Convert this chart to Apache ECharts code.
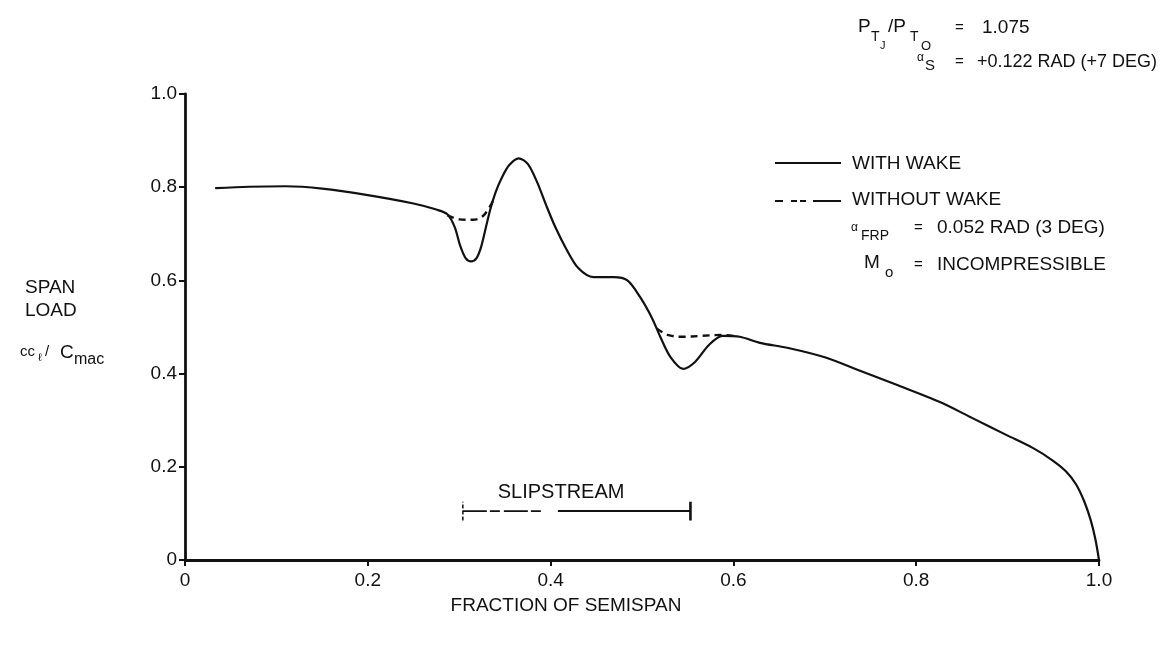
<!DOCTYPE html>
<html>
<head>
<meta charset="utf-8">
<script src="https://cdn.jsdelivr.net/npm/echarts@6/dist/echarts.min.js"></script>
<style>
  html, body { margin: 0; padding: 0; background: #fff; }
  #chart { width: 1169px; height: 649px; }
</style>
</head>
<body>
<div id="chart"></div>
<script>
// Fraction of semispan (x) and span load cc_l/C_mac (y)
const withWakeX = [0.033, 0.07, 0.11, 0.15, 0.20, 0.25, 0.275, 0.287, 0.295, 0.301, 0.307, 0.313, 0.319, 0.324, 0.329, 0.334, 0.340, 0.347, 0.355, 0.365, 0.375, 0.385, 0.395, 0.405, 0.417, 0.43, 0.447, 0.469, 0.484, 0.498, 0.511, 0.52, 0.531, 0.545, 0.558, 0.573, 0.588, 0.607, 0.629, 0.66, 0.70, 0.74, 0.78, 0.826, 0.861, 0.899, 0.928, 0.949, 0.964, 0.975, 0.984, 0.991, 0.996, 1.0];
const withWakeY = [0.798, 0.801, 0.802, 0.797, 0.783, 0.765, 0.752, 0.742, 0.715, 0.675, 0.648, 0.641, 0.648, 0.672, 0.712, 0.752, 0.790, 0.822, 0.848, 0.862, 0.850, 0.812, 0.762, 0.715, 0.668, 0.627, 0.607, 0.607, 0.600, 0.564, 0.519, 0.479, 0.436, 0.41, 0.425, 0.461, 0.481, 0.479, 0.466, 0.455, 0.435, 0.405, 0.375, 0.339, 0.305, 0.268, 0.240, 0.214, 0.190, 0.162, 0.125, 0.085, 0.045, 0.0];

// Without wake: two short segments that depart from the solid curve
const noWakeX = [0.287, 0.30, 0.315, 0.327, 0.338, null, 0.516, 0.528, 0.545, 0.565, 0.588, 0.60];
const noWakeY = [0.740, 0.731, 0.730, 0.740, 0.775, null, 0.497, 0.483, 0.479, 0.481, 0.483, 0.481];

// Slipstream extent along the semispan, and the height of its bracket
const slipstreamX = [0.304, 0.553];
const slipstreamLevel = 0.105;

const xTicks = ['0', '0.2', '0.4', '0.6', '0.8', '1.0'];
const yTicks = ['0', '0.2', '0.4', '0.6', '0.8', '1.0'];

const FONT = '"Liberation Sans", Arial, sans-serif';
const INK = '#111';

function pairs(xs, ys) {
  return xs.map((x, i) => (x === null ? [null, null] : [x, ys[i]]));
}

const chart = echarts.init(document.getElementById('chart'), null, { renderer: 'canvas' });

const axisCommon = {
  type: 'value',
  min: 0,
  max: 1,
  interval: 0.2,
  splitLine: { show: false },
  axisLine: { show: true, lineStyle: { color: INK, width: 2.8 } },
  axisTick: { show: true, length: 6, lineStyle: { color: INK, width: 2 } },
  axisLabel: { color: INK, fontFamily: FONT, fontSize: 19 }
};

const slipMid = (slipstreamX[0] + slipstreamX[1]) / 2;

chart.setOption({
  animation: false,
  backgroundColor: '#fff',
  grid: { left: 185, right: 70, top: 94, bottom: 89 },
  xAxis: Object.assign({}, axisCommon, {
    axisLabel: Object.assign({}, axisCommon.axisLabel, {
      margin: 11,
      formatter: (v) => xTicks[Math.round(v / 0.2)]
    })
  }),
  yAxis: Object.assign({}, axisCommon, {
    axisLabel: Object.assign({}, axisCommon.axisLabel, {
      margin: 8,
      formatter: (v) => yTicks[Math.round(v / 0.2)]
    })
  }),
  series: [
    {
      name: 'WITH WAKE',
      type: 'line',
      data: pairs(withWakeX, withWakeY),
      smooth: 0.3,
      showSymbol: false,
      lineStyle: { color: INK, width: 2.2 },
      z: 3
    },
    {
      name: 'WITHOUT WAKE',
      type: 'line',
      data: pairs(noWakeX, noWakeY),
      smooth: 0.35,
      connectNulls: false,
      showSymbol: false,
      lineStyle: { color: INK, width: 2.4, type: [7, 5] },
      z: 2
    },
    {
      // slipstream bracket: left half broken, right half solid
      type: 'line',
      data: [[slipstreamX[0], slipstreamLevel], [0.392, slipstreamLevel]],
      showSymbol: false,
      lineStyle: { color: INK, width: 1.8, type: [24, 3, 10, 4] }
    },
    {
      type: 'line',
      data: [[0.408, slipstreamLevel], [slipstreamX[1], slipstreamLevel]],
      showSymbol: false,
      lineStyle: { color: INK, width: 2 }
    },
    {
      type: 'line',
      data: [[slipstreamX[0], slipstreamLevel - 0.02], [slipstreamX[0], slipstreamLevel + 0.02]],
      showSymbol: false,
      lineStyle: { color: INK, width: 1.5, type: [4, 2] }
    },
    {
      type: 'line',
      data: [[slipstreamX[1], slipstreamLevel - 0.02], [slipstreamX[1], slipstreamLevel + 0.02]],
      showSymbol: false,
      lineStyle: { color: INK, width: 2.6 },
      markPoint: {
        symbol: 'rect',
        symbolSize: 0,
        data: [{ coord: [slipMid - 0.017, slipstreamLevel + 0.04], value: 'SLIPSTREAM' }],
        label: { show: true, formatter: 'SLIPSTREAM', color: INK, fontFamily: FONT, fontSize: 20 }
      }
    }
  ]
});

// Text annotations, legend keys and the axis titles
const T = (x, y, text, size, align) => ({
  type: 'text', x: x, y: y,
  style: { text: text, fill: INK, font: (size || 19) + 'px ' + FONT, textAlign: align || 'left', textVerticalAlign: 'middle' }
});

chart.setOption({
  graphic: [
    // P_TJ / P_TO = 1.075
    T(858, 27, 'P'), T(871, 37, 'T', 14), T(880, 46, 'J', 11),
    T(888, 27, '/P'), T(910, 37, 'T', 14), T(921, 46, 'O', 13),
    T(955, 28, '=', 15), T(982, 28, '1.075'),
    // alpha_S
    T(917, 58, 'α', 12), T(925, 66, 'S', 15),
    T(955, 62, '=', 15), T(977, 62, '+0.122 RAD (+7 DEG)', 18),
    // legend
    { type: 'line', shape: { x1: 775, y1: 163, x2: 841, y2: 163 }, style: { stroke: INK, lineWidth: 2.2 } },
    T(852, 164, 'WITH WAKE'),
    { type: 'line', shape: { x1: 775, y1: 201, x2: 841, y2: 201 }, style: { stroke: INK, lineWidth: 2.2, lineDash: [8, 8, 6, 3, 6, 7, 28, 0] } },
    T(852, 200, 'WITHOUT WAKE'),
    // alpha_FRP
    T(851, 228, 'α', 12), T(861, 236, 'FRP', 14),
    T(914, 228, '=', 15), T(937, 228, '0.052 RAD (3 DEG)'),
    // M_o
    T(864, 263, 'M'), T(885, 273, 'o', 15),
    T(914, 265, '=', 15), T(937, 265, 'INCOMPRESSIBLE'),
    // y axis title
    T(25, 288, 'SPAN'), T(25, 311, 'LOAD'),
    T(20, 352, 'cc', 15), T(38, 358, 'ℓ', 11), T(45, 352, '/', 15), T(60, 353, 'C', 19), T(74, 360, 'mac', 16),
    // x axis title
    T(566, 606, 'FRACTION OF SEMISPAN', 19, 'center')
  ]
});
</script>
</body>
</html>
